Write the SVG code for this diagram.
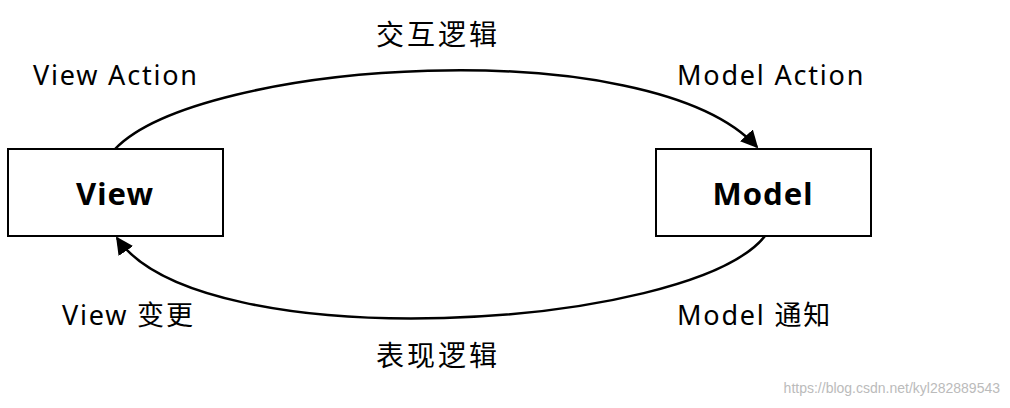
<svg xmlns="http://www.w3.org/2000/svg" width="1010" height="408" viewBox="0 0 1010 408">
<style>
.box{fill:#fff;stroke:#000;stroke-width:2}
.t{font-family:"Noto Sans","Noto Sans CJK SC",sans-serif;font-size:27px;letter-spacing:1.8px;fill:#000}
.z{font-family:"Noto Sans CJK SC",sans-serif;font-size:28px;letter-spacing:3px;fill:#000;text-anchor:middle}
.b{font-family:"Noto Sans",sans-serif;font-size:31px;font-weight:bold;letter-spacing:1px;fill:#000;text-anchor:middle}
.c{fill:none;stroke:#000;stroke-width:2.5}
</style>
<defs><marker id="a" viewBox="0 0 10 10" refX="9" refY="5" markerWidth="7" markerHeight="7" orient="auto"><path d="M0,0L10,5L0,10z" fill="#000"/></marker></defs>
<rect width="1010" height="408" fill="#fff"/>
<g id="view"><rect class="box" x="8" y="149" width="215" height="87"/><text class="b" x="115" y="205">View</text></g>
<g id="model"><rect class="box" x="656" y="149" width="215" height="87"/><text class="b" x="763" y="205">Model</text></g>
<g id="connectors">
<path class="c" d="M115,149 C200,60 650,30 757,147" marker-end="url(#a)"/>
<path class="c" d="M765,236 C690,330 200,360 117,238" marker-end="url(#a)"/>
</g>
<g id="labels">
<text class="z" x="438" y="45">交互逻辑</text>
<text class="t" x="33" y="85">View Action</text>
<text class="t" x="677" y="85">Model Action</text>
<text class="t" x="62" y="325">View 变更</text>
<text class="t" x="677" y="325">Model 通知</text>
<text class="z" x="438" y="366">表现逻辑</text>
<text x="1000" y="393" text-anchor="end" font-family="Liberation Sans,sans-serif" font-size="14" fill="#bbb">https://blog.csdn.net/kyl282889543</text>
</g>
</svg>
